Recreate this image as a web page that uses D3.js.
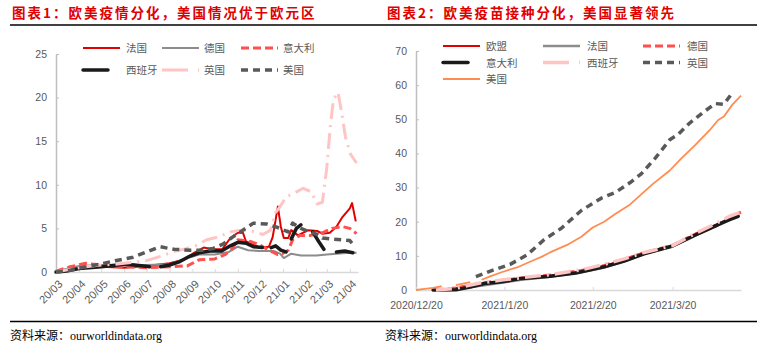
<!DOCTYPE html>
<html>
<head>
<meta charset="utf-8">
<script src="https://cdn.jsdelivr.net/npm/d3@7"></script>
<style>
  body { margin: 0; background: #fff; }
  svg { display: block; }
  .cjk { font-family: "Noto Sans CJK SC", sans-serif; }
  .num { font-family: "Liberation Sans", Arial, sans-serif; }
</style>
</head>
<body>
<div id="chart"></div>
<script>
// ---- left panel: 欧美疫情 ----
var leftMonths = ["2020-03-01", "2020-04-01", "2020-05-01", "2020-06-01", "2020-07-01", "2020-08-01", "2020-09-01",
  "2020-10-01", "2020-11-01", "2020-12-01", "2021-01-01", "2021-02-01", "2021-03-01", "2021-04-01"];
var leftYTicks = [0, 5, 10, 15, 20, 25];

var leftFrance = [["2020-03-01",0.1],["2020-03-20",0.3],["2020-04-10",0.5],["2020-05-01",0.6],["2020-06-01",0.5],
  ["2020-07-01",0.7],["2020-08-01",1.0],["2020-08-20",1.4],["2020-09-03",2.2],["2020-09-16",2.8],["2020-09-28",2.6],
  ["2020-10-11",2.6],["2020-10-22",3.9],["2020-11-01",4.5],["2020-11-08",4.5],["2020-11-12",3.5],["2020-11-18",3.3],
  ["2020-11-28",2.9],["2020-12-06",2.8],["2020-12-13",2.9],["2020-12-18",4.0],["2020-12-25",7.5],["2020-12-29",5.2],
  ["2021-01-02",3.9],["2021-01-08",3.9],["2021-01-12",4.8],["2021-01-21",4.2],["2021-02-04",4.8],["2021-02-16",4.7],
  ["2021-02-23",4.4],["2021-03-05",4.5],["2021-03-14",5.2],["2021-03-22",6.3],["2021-04-01",7.3],["2021-04-04",7.9],
  ["2021-04-09",5.8]];
var leftGermany = [["2020-03-01",0.1],["2020-04-01",0.7],["2020-05-01",0.8],["2020-06-01",0.8],["2020-07-01",0.8],
  ["2020-08-01",0.9],["2020-08-25",1.6],["2020-09-10",2.0],["2020-10-01",2.0],["2020-10-20",2.3],["2020-11-01",2.9],
  ["2020-11-15",2.5],["2020-12-01",2.4],["2020-12-20",2.4],["2020-12-28",2.1],["2021-01-02",1.6],["2021-01-12",2.1],
  ["2021-01-25",1.9],["2021-02-15",1.9],["2021-03-01",2.0],["2021-03-14",2.1],["2021-04-01",2.2],["2021-04-10",2.2]];
var leftItaly = [["2020-03-01",0.1],["2020-03-20",0.6],["2020-04-10",1.0],["2020-05-01",0.8],["2020-06-01",0.6],
  ["2020-07-01",0.5],["2020-08-01",0.6],["2020-08-25",0.7],["2020-09-10",1.4],["2020-10-01",1.5],["2020-10-15",2.0],
  ["2020-10-25",2.7],["2020-11-01",3.7],["2020-11-18",3.5],["2020-12-01",3.1],["2020-12-13",2.5],["2020-12-25",2.0],
  ["2020-12-31",2.1],["2021-01-08",2.5],["2021-01-14",3.7],["2021-01-24",4.2],["2021-02-07",4.2],["2021-02-23",4.5],
  ["2021-03-08",5.0],["2021-03-22",5.2],["2021-04-01",5.0],["2021-04-10",4.4]];
var leftSpain = [["2020-03-01",0.0],["2020-03-15",0.1],["2020-04-01",0.4],["2020-05-01",0.6],["2020-06-01",0.9],
  ["2020-06-15",0.8],["2020-07-05",0.6],["2020-07-10",null],["2020-07-20",0.6],["2020-08-01",0.8],["2020-08-15",1.2],
  ["2020-08-28",1.8],["2020-09-10",2.2],["2020-09-25",2.4],["2020-10-10",2.4],["2020-10-22",3.0],["2020-11-01",3.4],
  ["2020-11-12",3.3],["2020-11-22",2.9],["2020-12-04",2.8],["2020-12-10",null],["2020-12-16",2.8],["2020-12-22",3.0],
  ["2020-12-29",2.5],["2021-01-05",2.3],["2021-01-08",null],["2021-01-12",3.8],["2021-01-19",5.0],["2021-01-25",5.4],
  ["2021-01-30",null],["2021-02-10",4.6],["2021-02-18",3.5],["2021-02-25",2.6],["2021-03-01",null],["2021-03-14",2.3],
  ["2021-03-25",2.4],["2021-04-05",2.2]];
var leftUK = [["2020-03-01",0.0],["2020-03-20",0.3],["2020-04-10",0.6],["2020-05-01",0.8],["2020-05-20",0.9],
  ["2020-06-10",1.1],["2020-07-01",1.3],["2020-07-20",1.8],["2020-08-05",2.3],["2020-08-20",2.6],["2020-09-05",3.0],
  ["2020-09-20",3.7],["2020-10-05",4.0],["2020-10-22",4.6],["2020-11-05",4.8],["2020-11-20",4.7],["2020-12-05",4.3],
  ["2020-12-15",4.8],["2020-12-22",6.8],["2020-12-28",7.5],["2021-01-05",8.6],["2021-01-15",9.0],["2021-01-28",9.6],
  ["2021-02-08",9.2],["2021-02-16",7.8],["2021-02-23",8.0],["2021-03-01",12.0],["2021-03-06",17.0],["2021-03-10",19.8],
  ["2021-03-16",20.6],["2021-03-21",18.3],["2021-03-26",15.5],["2021-04-02",13.5],["2021-04-10",12.5]];
var leftUS = [["2020-03-01",0.0],["2020-03-20",0.2],["2020-04-05",0.5],["2020-04-29",0.9],["2020-05-20",1.3],
  ["2020-06-13",1.7],["2020-07-01",2.3],["2020-07-19",2.9],["2020-08-07",2.6],["2020-08-29",2.5],["2020-09-15",2.5],
  ["2020-09-29",2.7],["2020-10-12",3.2],["2020-10-25",4.0],["2020-11-08",4.8],["2020-11-22",5.6],["2020-12-10",5.5],
  ["2020-12-25",5.1],["2021-01-02",4.8],["2021-01-08",4.6],["2021-01-14",5.6],["2021-01-25",5.0],["2021-02-06",4.6],
  ["2021-02-16",4.3],["2021-02-23",3.9],["2021-03-05",3.8],["2021-03-22",3.7],["2021-04-01",3.6],["2021-04-08",2.9]];

// ---- right panel: 疫苗接种 ----
var rightTicks = ["2020-12-20", "2021-01-20", "2021-02-20", "2021-03-20"];
var rightYTicks = [0, 10, 20, 30, 40, 50, 60, 70];

var rightEU = [["2020-12-27",0.0],["2021-01-01",0.3],["2021-01-05",0.9],["2021-01-11",1.7],["2021-01-19",2.5],
  ["2021-01-26",3.3],["2021-02-05",4.1],["2021-02-16",5.4],["2021-02-20",6.2],["2021-02-28",7.9],["2021-03-07",10.2],
  ["2021-03-14",11.8],["2021-03-20",13.0],["2021-03-28",16.2],["2021-04-03",18.6],["2021-04-09",21.0],["2021-04-12",22.2]];
var rightFrance = [["2020-12-27",0.0],["2021-01-03",0.2],["2021-01-11",1.2],["2021-01-19",2.1],["2021-01-26",3.0],
  ["2021-02-05",3.9],["2021-02-16",5.2],["2021-02-24",6.6],["2021-03-03",8.4],["2021-03-10",10.6],["2021-03-20",12.8],
  ["2021-03-28",15.9],["2021-04-04",18.6],["2021-04-09",20.8],["2021-04-12",22.0]];
var rightGermany = [["2020-12-27",0.0],["2021-01-03",0.6],["2021-01-11",1.9],["2021-01-19",2.8],["2021-01-26",3.5],
  ["2021-02-05",4.4],["2021-02-16",5.7],["2021-02-24",7.2],["2021-03-03",8.9],["2021-03-10",10.9],["2021-03-20",13.1],
  ["2021-03-28",16.4],["2021-04-04",18.6],["2021-04-09",21.2],["2021-04-13",22.8]];
var rightItaly = [["2020-12-26",0.0],["2021-01-03",0.1],["2021-01-08",0.9],["2021-01-13",1.9],["2021-01-19",2.4],
  ["2021-01-26",3.4],["2021-02-05",4.0],["2021-02-14",5.0],["2021-02-24",6.8],["2021-03-03",8.5],["2021-03-10",10.6],
  ["2021-03-20",12.9],["2021-03-28",16.1],["2021-04-04",18.8],["2021-04-09",20.6],["2021-04-12",21.6]];
var rightSpain = [["2020-12-27",0.0],["2021-01-03",0.5],["2021-01-11",2.0],["2021-01-19",2.9],["2021-01-26",3.6],
  ["2021-02-05",4.5],["2021-02-16",5.9],["2021-02-24",7.5],["2021-03-03",9.1],["2021-03-10",11.0],["2021-03-20",13.0],
  ["2021-03-28",16.6],["2021-04-04",19.4],["2021-04-09",21.6],["2021-04-13",22.8]];
var rightUK = [["2021-01-10",3.9],["2021-01-16",5.8],["2021-01-22",7.5],["2021-01-28",10.3],["2021-02-03",14.8],
  ["2021-02-09",18.1],["2021-02-16",23.3],["2021-02-23",26.9],["2021-02-28",28.6],["2021-03-05",31.4],
  ["2021-03-09",34.0],["2021-03-14",38.7],["2021-03-19",44.0],["2021-03-22",45.6],["2021-03-26",48.9],
  ["2021-03-31",52.2],["2021-04-04",54.6],["2021-04-07",54.4],["2021-04-10",57.8]];
var rightUS = [["2020-12-20",0.0],["2020-12-23",0.3],["2020-12-26",0.6],["2020-12-29",1.1],["2020-12-31",null],
  ["2021-01-03",1.4],["2021-01-08",2.3],["2021-01-10",null],["2021-01-12",3.0],["2021-01-15",4.0],["2021-01-19",5.2],
  ["2021-01-25",6.8],["2021-01-31",9.0],["2021-02-02",9.7],["2021-02-05",11.0],["2021-02-11",13.2],["2021-02-16",15.6],
  ["2021-02-20",18.3],["2021-02-24",20.0],["2021-02-28",22.3],["2021-03-05",25.0],["2021-03-09",28.0],["2021-03-13",31.0],
  ["2021-03-19",35.0],["2021-03-23",38.5],["2021-03-28",42.5],["2021-04-02",46.8],["2021-04-05",49.8],["2021-04-07",50.8],
  ["2021-04-10",54.3],["2021-04-13",56.9]];

var parseDate = d3.timeParse("%Y-%m-%d");

var svg = d3.select("#chart").append("svg").attr("width", 773).attr("height", 354);

function drawPanel(p) {
  var g = svg.append("g");

  // title + rules
  g.append("text")
    .attr("class", "cjk")
    .attr("x", p.titleX).attr("y", 18)
    .style("font-size", "13.5px").style("font-weight", "bold")
    .style("letter-spacing", "2px")
    .attr("fill", "#e00000")
    .text(p.title);
  g.append("line").attr("x1", p.ruleX[0]).attr("x2", p.ruleX[1])
    .attr("y1", 25).attr("y2", 25).attr("stroke", "#000").attr("stroke-width", 1.5);
  g.append("line").attr("x1", p.ruleX[0]).attr("x2", p.ruleX[1])
    .attr("y1", 321.5).attr("y2", 321.5).attr("stroke", "#000").attr("stroke-width", 1.5);
  g.append("text")
    .attr("x", p.titleX - 2).attr("y", 339.5)
    .style("font-family", "'Liberation Serif', 'Noto Sans CJK SC', serif")
    .style("font-size", "12px").attr("fill", "#000")
    .text("资料来源：ourworldindata.org");

  var x = d3.scaleTime().domain(p.xDomain.map(parseDate)).range(p.xRange);
  var y = d3.scaleLinear().domain(p.yDomain).range(p.yRange);

  // axes
  var yAxis = g.append("g")
    .attr("transform", "translate(" + p.xRange[0] + ",0)")
    .call(d3.axisLeft(y).tickValues(p.yTicks).tickSizeInner(-3).tickSizeOuter(0).tickPadding(9));
  yAxis.select(".domain").attr("stroke", "#bfbfbf").attr("stroke-width", 1.5);
  yAxis.selectAll(".tick line").attr("stroke", "#bfbfbf");
  yAxis.selectAll("text").attr("class", "num").style("font-size", "10.5px").attr("fill", "#595959");

  var xAxis = g.append("g")
    .attr("transform", "translate(0," + p.yRange[0] + ")")
    .call(d3.axisBottom(x).tickValues(p.xTicks.map(parseDate)).tickFormat(d3.timeFormat(p.xFormat))
      .tickSizeInner(-3).tickSizeOuter(0).tickPadding(12));
  xAxis.select(".domain").attr("stroke", "#d9d9d9").attr("stroke-width", 1.5);
  xAxis.selectAll(".tick line").attr("stroke", "#d9d9d9");
  xAxis.selectAll("text").attr("class", "num").style("font-size", "10.5px").attr("fill", "#595959");
  if (p.rotate) {
    xAxis.selectAll("text")
      .attr("x", 0).attr("y", 0).attr("dy", "0.35em")
      .attr("text-anchor", "end")
      .attr("transform", "translate(4,10) rotate(-45)")
      .style("font-size", "11px");
  }

  var line = d3.line()
    .defined(function (d) { return d[1] !== null; })
    .x(function (d) { return x(parseDate(d[0])); })
    .y(function (d) { return y(d[1]); });

  p.series.forEach(function (s) {
    g.append("path")
      .datum(s.data)
      .attr("d", line)
      .attr("fill", "none")
      .attr("stroke", s.color)
      .attr("stroke-width", s.width)
      .attr("stroke-dasharray", s.dash || null)
      .attr("stroke-linejoin", "round")
      .attr("stroke-linecap", s.cap || "butt");
  });

  // legend
  p.series.forEach(function (s, i) {
    var col = i % 3, row = Math.floor(i / 3);
    var lx = p.legendX[col], ly = p.legendY[row];
    var len = s.short ? 25 : 37;
    g.append("line")
      .attr("x1", lx).attr("x2", lx + len)
      .attr("y1", ly).attr("y2", ly)
      .attr("stroke", s.color)
      .attr("stroke-width", s.width)
      .attr("stroke-dasharray", s.legendDash || s.dash || null)
      .attr("stroke-linecap", s.cap || "butt");
    g.append("text")
      .attr("class", "cjk")
      .attr("x", p.labelX[col]).attr("y", ly + 4)
      .style("font-size", "10.5px").attr("fill", "#595959")
      .text(s.name);
  });
}

drawPanel({
  title: "图表1：欧美疫情分化，美国情况优于欧元区",
  titleX: 12, ruleX: [10, 380],
  xDomain: ["2020-03-01", "2021-04-12"], xRange: [56, 358],
  yDomain: [0, 25], yRange: [272, 54],
  xTicks: leftMonths, xFormat: "%y/%m", rotate: true,
  yTicks: leftYTicks,
  legendX: [83, 162, 241], labelX: [126, 204, 283], legendY: [48, 70],
  series: [
    { name: "法国", data: leftFrance, color: "#e00000", width: 2 },
    { name: "德国", data: leftGermany, color: "#8c8c8c", width: 2 },
    { name: "意大利", data: leftItaly, color: "#ff5050", width: 3, dash: "8,4" },
    { name: "西班牙", data: leftSpain, color: "#1a1a1a", width: 3.5, cap: "round", short: true },
    { name: "英国", data: leftUK, color: "#ffc4c4", width: 3, dash: "16,6,2,6", legendDash: "26,10,2,20" },
    { name: "美国", data: leftUS, color: "#595959", width: 3.5, dash: "7,5" }
  ]
});

drawPanel({
  title: "图表2：欧美疫苗接种分化，美国显著领先",
  titleX: 387, ruleX: [380, 757],
  xDomain: ["2020-12-20", "2021-04-13"], xRange: [416, 741],
  yDomain: [0, 70], yRange: [290, 51],
  xTicks: rightTicks, xFormat: "%Y/%-m/%-d", rotate: false,
  yTicks: rightYTicks,
  legendX: [443, 543, 643], labelX: [486, 587, 687], legendY: [46, 62.5, 79],
  series: [
    { name: "欧盟", data: rightEU, color: "#e00000", width: 2 },
    { name: "法国", data: rightFrance, color: "#8c8c8c", width: 2.5 },
    { name: "德国", data: rightGermany, color: "#ff5050", width: 3, dash: "8,4" },
    { name: "意大利", data: rightItaly, color: "#1a1a1a", width: 3.5, cap: "round", short: true },
    { name: "西班牙", data: rightSpain, color: "#ffc4c4", width: 3.5, dash: "16,6,2,6", legendDash: "26,10,2,20" },
    { name: "英国", data: rightUK, color: "#595959", width: 3.5, dash: "7,5" },
    { name: "美国", data: rightUS, color: "#ff8c50", width: 1.8 }
  ]
});
</script>
</body>
</html>
